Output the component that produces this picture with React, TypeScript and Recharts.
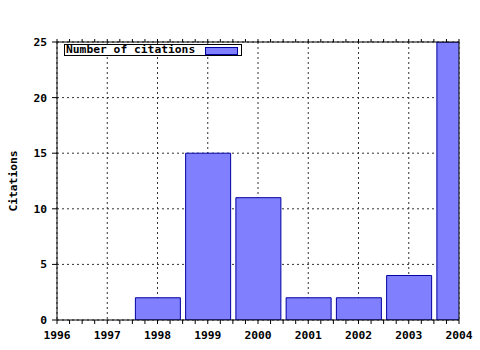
import React from "react";
import { BarChart, Bar, XAxis, YAxis, CartesianGrid } from "recharts";

const YEARS = [1996, 1997, 1998, 1999, 2000, 2001, 2002, 2003, 2004];
const CITATIONS = [0, 0, 2, 15, 11, 2, 2, 4, 25];
const Y_TICKS = [0, 5, 10, 15, 20, 25];
const SERIES_NAME = "Number of citations";
const Y_LABEL = "Citations";

// quarter-year minor ticks along the x axis
const MINOR_TICKS = YEARS.slice(0, -1)
  .flatMap((y) => [y, y + 0.25, y + 0.5, y + 0.75])
  .concat(YEARS[YEARS.length - 1]);

const data = YEARS.map((year, i) => ({ year, citations: CITATIONS[i] }));

const FONT = "'DejaVu Sans Mono', monospace";
const tickFont = { fontFamily: FONT, fontSize: 11.3, fontWeight: "bold", fill: "#000" };
const BAR_FILL = "#8080ff";
const BAR_STROKE = "#0000a0";
const X_DOMAIN = [1996, 2004];

export default function App() {
  return (
    <div style={{ position: "absolute", left: 0, top: 0, width: 480, height: 350, background: "#fff" }}>
      <BarChart
        width={480}
        height={350}
        data={data}
        margin={{ top: 41, right: 20, bottom: 0, left: 0 }}
        barSize={45}
      >
        <CartesianGrid xAxisId="grid" stroke="#333" strokeDasharray="2 3" />
        <XAxis
          xAxisId="grid"
          dataKey="year"
          type="number"
          domain={X_DOMAIN}
          ticks={YEARS}
          interval={0}
          hide
          allowDataOverflow
        />
        <XAxis
          xAxisId={0}
          dataKey="year"
          type="number"
          domain={X_DOMAIN}
          ticks={MINOR_TICKS}
          interval={0}
          height={30}
          tickSize={4}
          tickMargin={7}
          tick={tickFont}
          tickFormatter={(v: number) => (Number.isInteger(v) ? String(v) : "")}
          stroke="#000"
          allowDataOverflow
        />
        <XAxis
          xAxisId="top"
          orientation="top"
          dataKey="year"
          type="number"
          domain={X_DOMAIN}
          ticks={MINOR_TICKS}
          interval={0}
          height={1}
          tickSize={3}
          tickFormatter={() => ""}
          stroke="#000"
          allowDataOverflow
        />
        <YAxis
          yAxisId={0}
          domain={[0, 25]}
          ticks={Y_TICKS}
          interval={0}
          width={57}
          tickSize={5}
          tickMargin={5}
          tick={tickFont}
          stroke="#000"
          allowDataOverflow
        />
        <YAxis
          yAxisId="right"
          orientation="right"
          domain={[0, 25]}
          width={1}
          tick={false}
          tickLine={false}
          stroke="#000"
        />
        <Bar
          dataKey="citations"
          name={SERIES_NAME}
          xAxisId={0}
          yAxisId={0}
          fill={BAR_FILL}
          stroke={BAR_STROKE}
          strokeWidth={1}
          isAnimationActive={false}
        />
      </BarChart>

      <div
        style={{
          position: "absolute",
          left: 13,
          top: 181,
          transform: "translate(-50%, -50%) rotate(-90deg)",
          fontFamily: FONT,
          fontSize: 11.3,
          fontWeight: "bold",
          whiteSpace: "nowrap",
        }}
      >
        {Y_LABEL}
      </div>

      <div
        style={{
          position: "absolute",
          left: 64,
          top: 44,
          width: 178,
          height: 12,
          border: "1px solid #000",
          background: "#fff",
          boxSizing: "border-box",
          display: "flex",
          alignItems: "center",
          fontFamily: FONT,
          fontSize: 11.3,
          fontWeight: "bold",
          lineHeight: "12px",
          whiteSpace: "nowrap",
        }}
      >
        <span style={{ marginLeft: 1 }}>{SERIES_NAME}</span>
        <span
          style={{
            position: "absolute",
            left: 140,
            top: 2,
            width: 31,
            height: 6,
            background: BAR_FILL,
            border: `1px solid ${BAR_STROKE}`,
          }}
        />
      </div>
    </div>
  );
}
